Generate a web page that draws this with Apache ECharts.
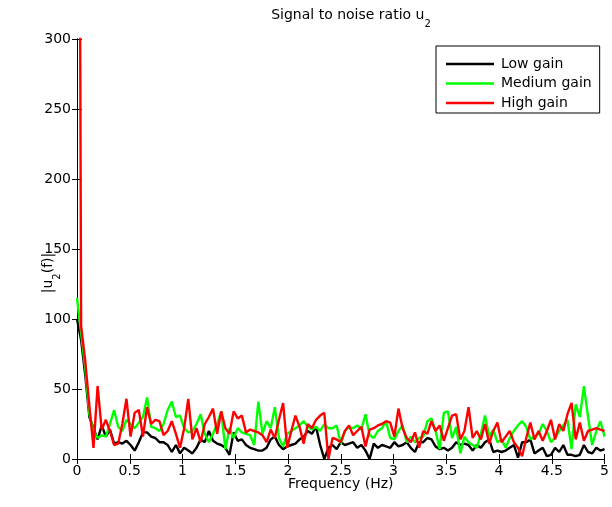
<!DOCTYPE html>
<html>
<head>
<meta charset="utf-8">
<script src="https://cdn.jsdelivr.net/npm/echarts@6/dist/echarts.min.js"></script>
<style>
  html, body { margin: 0; padding: 0; background: #fff; }
  #chart { width: 612px; height: 507px; }
</style>
</head>
<body>
<div id="chart"></div>
<script>
// frequency bins: 129 points, 0..5 Hz
var df = 5 / 128;
var xTicks = ['0', '0.5', '1', '1.5', '2', '2.5', '3', '3.5', '4', '4.5', '5'];
var yTicks = ['0', '50', '100', '150', '200', '250', '300'];

var seriesNames = ['Low gain', 'Medium gain', 'High gain'];

var lowGain = [
  100, 85, 60, 30, 22, 14, 24, 16, 21, 11, 12, 11, 13, 10, 6, 12, 19, 19, 16, 15,
  12, 12, 10, 5, 10, 4, 8, 6, 4, 8, 14, 12, 20, 13, 11, 10, 8, 3, 19, 13,
  14, 10, 8, 7, 6, 6, 8, 14, 16, 10, 7, 9, 10, 11, 14, 16, 20, 18, 23, 10,
  0, 8, 10, 7, 12, 10, 11, 12, 8, 10, 6, 0, 11, 8, 10, 9, 8, 12, 9, 10,
  12, 8, 5, 12, 12, 15, 14, 9, 7, 8, 6, 8, 12, 10, 11, 10, 6, 10, 8, 12,
  14, 5, 6, 5, 6, 8, 10, 1, 12, 12, 14, 4, 6, 8, 2, 3, 8, 5, 10, 3,
  3, 2, 3, 10, 5, 4, 8, 6, 7
];

var mediumGain = [
  115, 90, 65, 32, 20, 15, 17, 16, 25, 35, 23, 20, 28, 25, 22, 26, 30, 44, 23, 22,
  20, 25, 35, 41, 30, 31, 22, 19, 20, 25, 32, 18, 12, 18, 25, 34, 7, 22, 15, 22,
  19, 18, 17, 10, 41, 18, 27, 22, 37, 15, 9, 18, 20, 22, 24, 27, 23, 21, 23, 20,
  25, 22, 22, 24, 11, 20, 23, 22, 24, 21, 32, 17, 15, 20, 22, 27, 15, 14, 20, 24,
  12, 16, 12, 15, 16, 27, 29, 20, 7, 33, 34, 15, 23, 4, 16, 12, 10, 8, 18, 31,
  16, 21, 12, 14, 8, 15, 20, 24, 27, 23, 14, 16, 18, 25, 20, 12, 15, 20, 24, 28,
  7, 39, 30, 52, 30, 10, 20, 27, 16
];

var highGain = [
  1000, 95, 70, 38, 8, 52, 21, 28, 20, 10, 11, 25, 43, 16, 33, 35, 16, 37, 25, 28,
  27, 17, 20, 27, 18, 8, 22, 43, 14, 22, 12, 25, 30, 36, 18, 34, 22, 18, 34, 29,
  31, 19, 21, 20, 19, 17, 12, 21, 15, 28, 40, 8, 20, 31, 23, 11, 25, 22, 28, 31,
  33, 0, 15, 14, 12, 20, 24, 17, 20, 23, 9, 21, 22, 24, 25, 27, 26, 16, 36, 22,
  15, 12, 19, 8, 20, 18, 27, 20, 24, 13, 22, 31, 32, 14, 20, 37, 15, 20, 14, 25,
  11, 20, 26, 12, 16, 20, 12, 8, 2, 15, 26, 14, 20, 13, 20, 28, 14, 25, 20, 32,
  40, 14, 26, 13, 20, 21, 22, 21, 20
];

var colors = ['#000000', '#00ff00', '#ff0000'];

function toPairs(arr) {
  return arr.map(function (v, i) { return [i * df, v]; });
}

var chart = echarts.init(document.getElementById('chart'), null, { renderer: 'canvas' });

var font = 'DejaVu Sans, sans-serif';
var subStyle = { fontFamily: font, fontSize: 10, color: '#000', verticalAlign: 'bottom', padding: [0, 0, -7, 0] };

var option = {
  animation: false,
  backgroundColor: '#ffffff',
  color: colors,
  title: {
    text: 'Signal to noise ratio u{s|2}',
    left: 346,
    textAlign: 'center',
    top: 3,
    textStyle: {
      fontFamily: font,
      fontSize: 14,
      fontWeight: 'normal',
      color: '#000',
      rich: { s: subStyle }
    }
  },
  legend: {
    orient: 'vertical',
    left: 436,
    top: 46,
    data: seriesNames,
    backgroundColor: '#fff',
    borderColor: '#000',
    borderWidth: 1,
    padding: [10, 8, 2, 10],
    itemWidth: 48,
    itemHeight: 2.5,
    itemGap: 3.5,
    icon: 'rect',
    textStyle: { fontFamily: font, fontSize: 14, lineHeight: 16, color: '#000', padding: [0, 0, 0, 2] }
  },
  grid: { left: 77, right: 5, top: 39, bottom: 48, containLabel: false },
  xAxis: [
    {
      type: 'value', min: 0, max: 5, interval: 0.5,
      name: 'Frequency (Hz)', nameLocation: 'middle', nameGap: 18,
      nameMoveOverlap: false,
      nameTextStyle: { fontFamily: font, fontSize: 14, color: '#000', verticalAlign: 'top' },
      axisLine: { show: true, lineStyle: { color: '#000', width: 1 } },
      axisTick: { show: true, inside: true, length: 5, lineStyle: { color: '#000' } },
      axisLabel: {
        fontFamily: font, fontSize: 14, color: '#000', margin: 5,
        formatter: function (v) { return xTicks[Math.round(v / 0.5)]; }
      },
      splitLine: { show: false }
    },
    {
      type: 'value', min: 0, max: 5, interval: 0.5, position: 'top',
      axisLine: { show: true, lineStyle: { color: '#000', width: 1 } },
      axisTick: { show: true, inside: true, length: 5, lineStyle: { color: '#000' } },
      axisLabel: { show: false },
      splitLine: { show: false }
    }
  ],
  yAxis: [
    {
      type: 'value', min: 0, max: 300, interval: 50,
      name: '|u{s|2}(f)|', nameLocation: 'middle', nameGap: 22,
      nameMoveOverlap: false,
      nameTextStyle: {
        fontFamily: font, fontSize: 14, color: '#000',
        padding: [0, 48, 0, 0],
        rich: { s: subStyle }
      },
      axisLine: { show: true, lineStyle: { color: '#000', width: 1 } },
      axisTick: { show: true, inside: true, length: 5, lineStyle: { color: '#000' } },
      axisLabel: {
        fontFamily: font, fontSize: 14, color: '#000', margin: 6,
        formatter: function (v) { return yTicks[Math.round(v / 50)]; }
      },
      splitLine: { show: false }
    },
    {
      type: 'value', min: 0, max: 300, interval: 50, position: 'right',
      axisLine: { show: true, lineStyle: { color: '#000', width: 1 } },
      axisTick: { show: true, inside: true, length: 5, lineStyle: { color: '#000' } },
      axisLabel: { show: false },
      splitLine: { show: false }
    }
  ],
  series: [
    { name: seriesNames[0], data: toPairs(lowGain) },
    { name: seriesNames[1], data: toPairs(mediumGain) },
    { name: seriesNames[2], data: toPairs(highGain) }
  ].map(function (s, i) {
    return {
      name: s.name,
      type: 'line',
      data: s.data,
      showSymbol: false,
      symbol: 'none',
      clip: true,
      lineStyle: { width: 2.4, color: colors[i] },
      itemStyle: { color: colors[i] },
      z: 2 + i
    };
  })
};

chart.setOption(option);
</script>
</body>
</html>
